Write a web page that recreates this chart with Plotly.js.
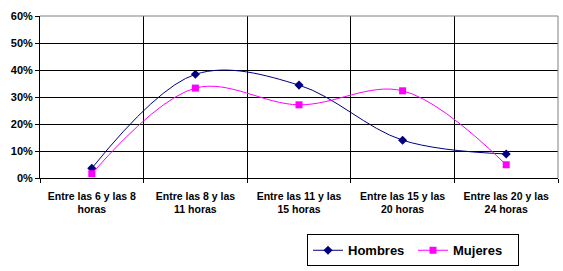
<!DOCTYPE html>
<html><head><meta charset="utf-8">
<script src="https://cdn.plot.ly/plotly-3.0.1.min.js"></script>
<style>body{margin:0;padding:0;background:#fff}#c{width:563px;height:271px}</style>
</head><body><div id="c"></div>
<script>
const categories = ["Entre las 6 y las 8<br>horas","Entre las 8 y las<br>11 horas","Entre las 11 y las<br>15 horas","Entre las 15 y las<br>20 horas","Entre las 20 y las<br>24 horas"];
const hombres = [0.036, 0.384, 0.344, 0.14, 0.089];
const mujeres = [0.016, 0.333, 0.271, 0.323, 0.049];
const yTicks = [0, 0.1, 0.2, 0.3, 0.4, 0.5, 0.6];
const yTickLabels = ["0%","10%","20%","30%","40%","50%","60%"];

const fam = "Liberation Sans, Arial, sans-serif";
const traces = [
  {x: categories, y: hombres, name: "Hombres", type: "scatter", mode: "lines+markers",
   line: {color: "#000080", width: 1, shape: "spline", smoothing: 1},
   marker: {symbol: "diamond", size: 7, color: "#000080"}},
  {x: categories, y: mujeres, name: "Mujeres", type: "scatter", mode: "lines+markers",
   line: {color: "#FF00FF", width: 1, shape: "spline", smoothing: 1},
   marker: {symbol: "square", size: 7, color: "#FF00FF"}}
];
const px = (v) => (v - 40) / 518;
const py = (v) => (180 - v) / 164;
const layout = {
  width: 563, height: 271,
  margin: {l: 40, r: 5, t: 16, b: 91},
  paper_bgcolor: "#fff", plot_bgcolor: "#fff",
  showlegend: true,
  legend: {orientation: "h", x: px(307), y: py(237), xanchor: "left", yanchor: "top",
    entrywidth: 60, entrywidthmode: "pixels",
    bordercolor: "#000", borderwidth: 1, bgcolor: "#fff",
    font: {family: fam, size: 13, color: "#000", weight: "bold"}},
  xaxis: {type: "category", tickson: "boundaries", showgrid: true, gridcolor: "#000", gridwidth: 1,
    showline: true, linecolor: "#000", linewidth: 1, ticks: "outside", ticklen: 4, tickcolor: "#000",
    ticklabelstandoff: 8, tickangle: 0,
    tickfont: {family: fam, size: 10.5, color: "#000", weight: "bold"}, range: [-0.5, 4.5],
    fixedrange: true, zeroline: false},
  yaxis: {range: [0, 0.6], tickvals: yTicks, ticktext: yTickLabels, showgrid: true, gridcolor: "#000", gridwidth: 1,
    showline: true, linecolor: "#000", linewidth: 1, ticks: "outside", ticklen: 4, tickcolor: "#000",
    tickfont: {family: fam, size: 11, color: "#000", weight: "bold"}, zeroline: false, fixedrange: true},
  shapes: [
    {type: "line", xref: "paper", yref: "paper", x0: 0, x1: 1, y0: 1, y1: 1, line: {color: "#808080", width: 1}},
    {type: "line", xref: "paper", yref: "paper", x0: 1, x1: 1, y0: 0, y1: 1, line: {color: "#808080", width: 1}},
    {type: "rect", xref: "paper", yref: "paper", x0: px(310), x1: px(519), y0: py(240), y1: py(262),
     fillcolor: "#000", line: {width: 0}}
  ]
};
Plotly.newPlot("c", traces, layout, {displayModeBar: false, staticPlot: true});
</script></body></html>
